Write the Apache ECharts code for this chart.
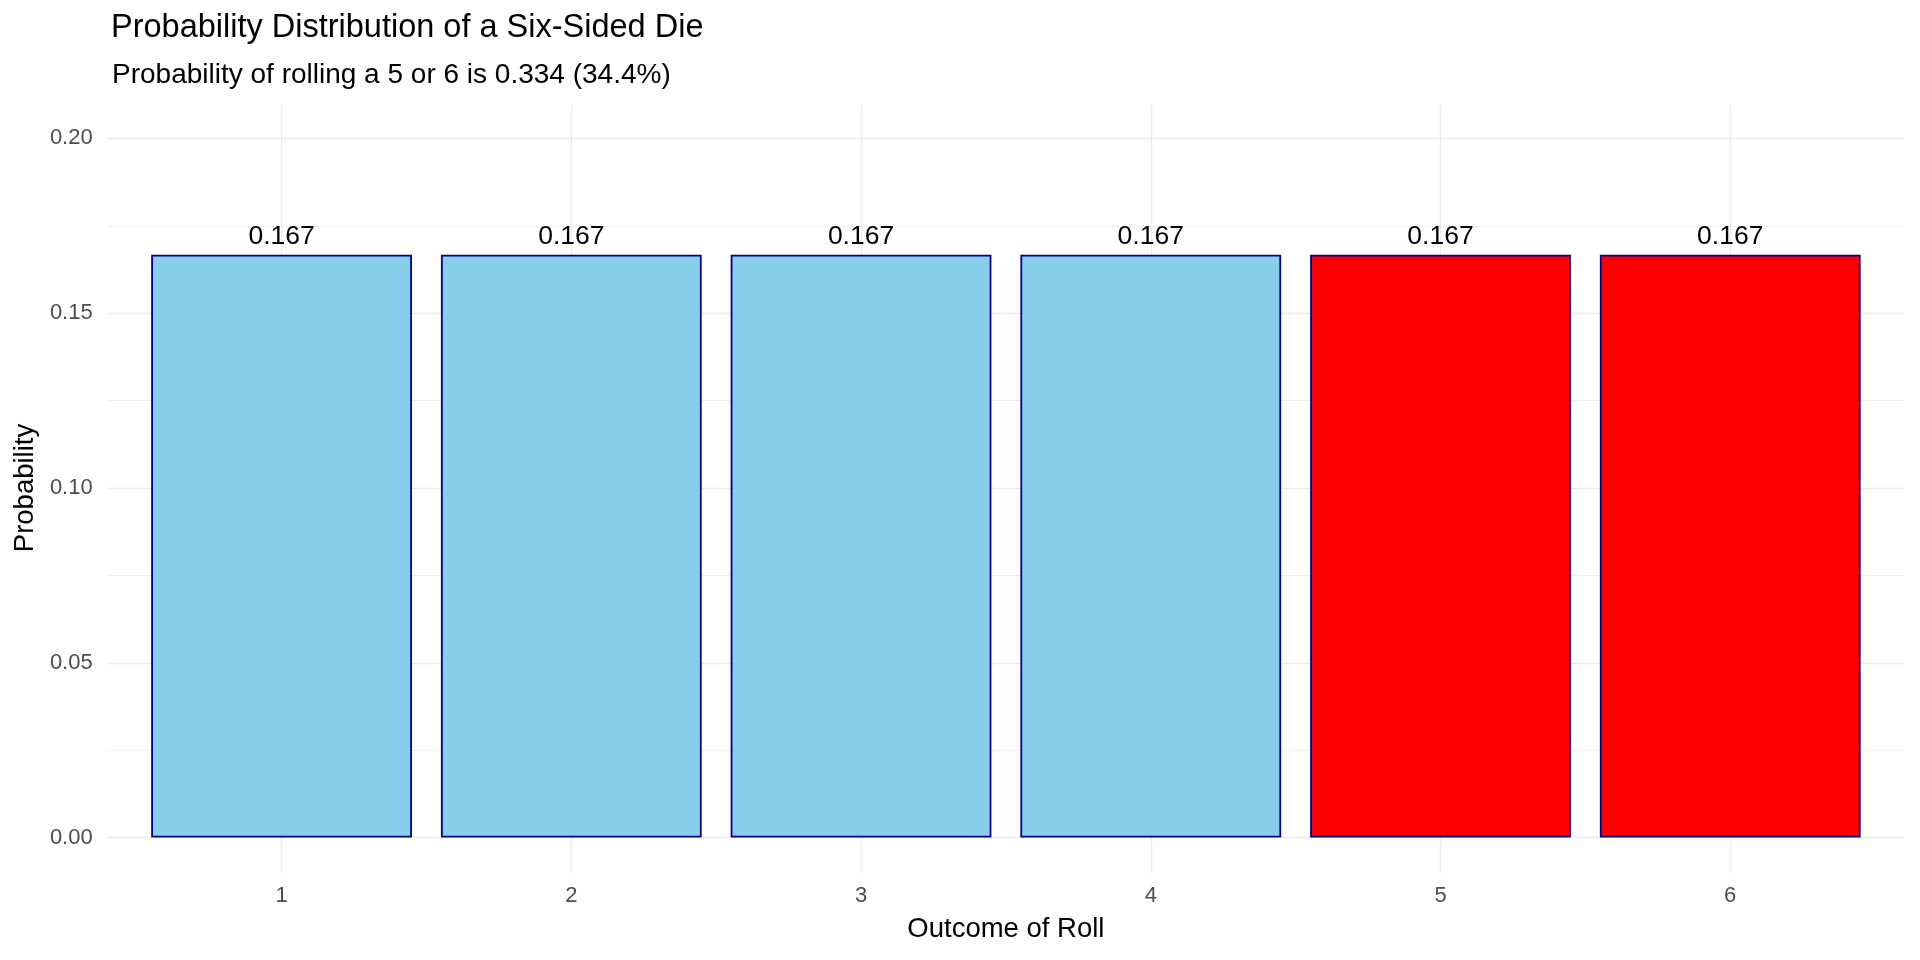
<!DOCTYPE html>
<html>
<head>
<meta charset="utf-8">
<script src="https://cdn.jsdelivr.net/npm/echarts@6/dist/echarts.min.js"></script>
<style>
html,body{margin:0;padding:0;background:#fff;}
#chart{width:1920px;height:960px;}
</style>
</head>
<body>
<div id="chart"></div>
<script>
// ---- data ----
const outcomes = ['1', '2', '3', '4', '5', '6'];
const probabilities = [0.1667, 0.1667, 0.1667, 0.1667, 0.1667, 0.1667];
const highlighted = [false, false, false, false, true, true];
const yTickValues = [0, 0.05, 0.10, 0.15, 0.20];
const titleText = 'Probability Distribution of a Six-Sided Die';
const subtitleText = 'Probability of rolling a 5 or 6 is 0.334 (34.4%)';
const xTitle = 'Outcome of Roll';
const yTitle = 'Probability';

// ---- styles ----
const FONT = "'Liberation Sans', Arial, sans-serif";
const GRID_COLOR = '#EBEBEB';
const BASE_FILL = '#87CEEB';
const HIGHLIGHT_FILL = '#FF0000';
const BORDER = '#00008B';

const chart = echarts.init(document.getElementById('chart'), null, {renderer: 'canvas'});

const barData = probabilities.map((v, i) => ({
  value: v,
  itemStyle: {color: highlighted[i] ? HIGHLIGHT_FILL : BASE_FILL}
}));

const option = {
  backgroundColor: '#ffffff',
  animation: false,
  textStyle: {fontFamily: FONT},
  title: [
    {text: titleText, left: 106, top: 7,
     textStyle: {fontFamily: FONT, fontSize: 32.5, fontWeight: 'normal', color: '#000'}},
    {text: subtitleText, left: 107, top: 56,
     textStyle: {fontFamily: FONT, fontSize: 28, fontWeight: 'normal', color: '#000'}}
  ],
  grid: [
    // bars
    {left: 136.7, right: 44.9, top: 138.4, bottom: 122.4},
    // vertical grid lines (category centres)
    {left: 281.6, right: 189.8, top: 105, bottom: 87.4},
    // horizontal grid lines (full panel width)
    {left: 107.8, right: 16, top: 138.4, bottom: 122.4}
  ],
  xAxis: [
    {type: 'category', gridIndex: 0, data: outcomes,
     axisLine: {show: false}, axisTick: {show: false}, splitLine: {show: false},
     axisLabel: {color: '#4D4D4D', fontSize: 22, fontFamily: FONT, margin: 47},
     name: xTitle, nameLocation: 'middle', nameGap: 78,
     nameTextStyle: {color: '#000', fontSize: 27.5, fontFamily: FONT, verticalAlign: 'top'}},
    {type: 'value', gridIndex: 1, min: 1, max: 6, interval: 1,
     axisLine: {show: false}, axisTick: {show: false}, axisLabel: {show: false},
     splitLine: {show: true, showMinLine: true, showMaxLine: true,
                 lineStyle: {color: GRID_COLOR, width: 1.3}}},
    {type: 'value', gridIndex: 2, min: 0, max: 1, show: false}
  ],
  yAxis: [
    {type: 'value', gridIndex: 0, min: 0, max: 0.2, interval: 0.05,
     axisLine: {show: false}, axisTick: {show: false}, splitLine: {show: false},
     axisLabel: {color: '#4D4D4D', fontSize: 22, fontFamily: FONT, margin: 44,
                 customValues: yTickValues,
                 formatter: v => v.toFixed(2)},
     name: yTitle, nameLocation: 'middle', nameGap: 96, nameRotate: 90,
     nameTextStyle: {color: '#000', fontSize: 27.5, fontFamily: FONT}},
    {type: 'value', gridIndex: 1, min: 0, max: 1, show: false},
    {type: 'value', gridIndex: 2, min: 0, max: 0.2, interval: 0.05,
     axisLine: {show: false}, axisTick: {show: false}, axisLabel: {show: false},
     splitLine: {show: true, lineStyle: {color: GRID_COLOR, width: 1.3}},
     minorTick: {show: false, splitNumber: 2},
     minorSplitLine: {show: true, lineStyle: {color: GRID_COLOR, width: 0.8}}}
  ],
  series: [
    {type: 'bar', xAxisIndex: 0, yAxisIndex: 0, data: barData,
     barWidth: '90%',
     itemStyle: {borderColor: BORDER, borderWidth: 1.8},
     label: {show: true, position: 'top', distance: 5,
             color: '#000', fontSize: 26.5, fontFamily: FONT,
             formatter: p => p.value.toFixed(3)},
     z: 3}
  ]
};
chart.setOption(option);
</script>
</body>
</html>
